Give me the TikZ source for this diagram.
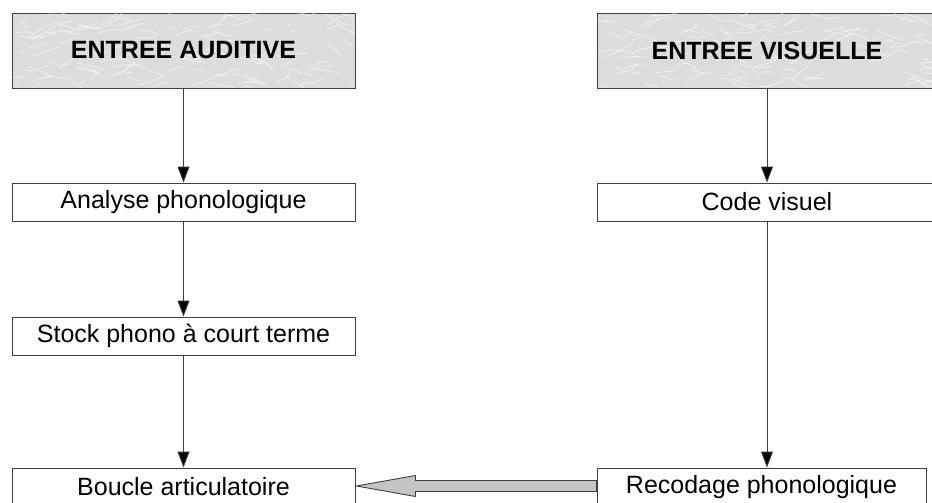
\documentclass[tikz,border=0pt]{standalone}
\usepackage{fontspec}
\setmainfont{Liberation Sans}
\usetikzlibrary{calc,arrows.meta}
\definecolor{edgecol}{HTML}{404040}
\definecolor{titlefill}{HTML}{DCDCDC}
\definecolor{hollow}{HTML}{C4C4C4}
\tikzset{
  box/.style={draw=edgecol, line width=0.9pt, fill=white, minimum height=38pt,
    inner sep=0pt, font=\fontsize{25}{28}\selectfont, text=black},
  titlebox/.style={box, fill=titlefill, minimum height=75pt,
    font=\fontsize{25}{28}\selectfont\bfseries},
  titletext/.style={font=\fontsize{25}{28}\selectfont\bfseries, text=black},
  flow/.style={draw=edgecol, line width=0.9pt, -{Triangle[length=16pt,width=12pt,fill=black]}},
  bigarrow/.style={draw=edgecol, line width=0.9pt, fill=hollow},
  marble/.style={white, line width=0.7pt, opacity=0.6, line cap=round, line join=round}
}
\begin{document}
\begin{tikzpicture}[x=1pt,y=-1pt]
\clip (0,0) rectangle (932,503);
\fill[white] (0,0) rectangle (932,503);
% left column
\node[titlebox, minimum width=343pt] (aud) at (183.5,50.5) {};
\node[box, minimum width=343pt] (ana) at (183.5,202) {Analyse phonologique};
\node[box, minimum width=343pt] (sto) at (183.5,336) {Stock phono à court terme};
\node[box, minimum width=343pt] (bou) at (183.5,487) {Boucle articulatoire};
% right column
\node[titlebox, minimum width=340pt] (vis) at (767,50.5) {};
\node[box, minimum width=340pt] (cod) at (767,202) {Code visuel};
\node[box, minimum width=329pt] (rec) at (761.5,487) {Recodage phonologique};
% marble texture on title boxes
\pgfmathsetseed{11}
\foreach \bx in {aud,vis}{
  \begin{scope}
    \clip ($(\bx.north west)+(1,1)$) rectangle ($(\bx.south east)+(-1,-1)$);
    \foreach \i in {1,...,140}{
      \pgfmathsetmacro{\px}{rnd*345}
      \pgfmathsetmacro{\py}{rnd*75}
      \pgfmathsetmacro{\ang}{-35+rnd*70}
      \pgfmathsetmacro{\len}{4+rnd*14}
      \pgfmathsetmacro{\bend}{60*rnd-30}
      \draw[marble] ($(\bx.north west)+(\px,\py)$) -- ++(\ang:\len) -- ++(\ang+\bend:\len*0.7);
    }
  \end{scope}
}
\node[titletext] at (aud) {ENTREE AUDITIVE};
\node[titletext] at (vis) {ENTREE VISUELLE};
% connectors
\draw[flow] (aud.south) -- (ana.north);
\draw[flow] (ana.south) -- (sto.north);
\draw[flow] (sto.south) -- (bou.north);
\draw[flow] (vis.south) -- (cod.north);
\draw[flow] (cod.south) -- (cod.south |- rec.north);
% hollow arrow from Recodage to Boucle
\draw[bigarrow] ($(bou.east)+(1,-1)$) -- ($(bou.east)+(60,-11.5)$) -- ($(bou.east)+(60,-6.5)$)
  -- ($(rec.west)+(0,-6.5)$) -- ($(rec.west)+(0,4.5)$) -- ($(bou.east)+(60,4.5)$)
  -- ($(bou.east)+(60,9.5)$) -- cycle;
\end{tikzpicture}
\end{document}
